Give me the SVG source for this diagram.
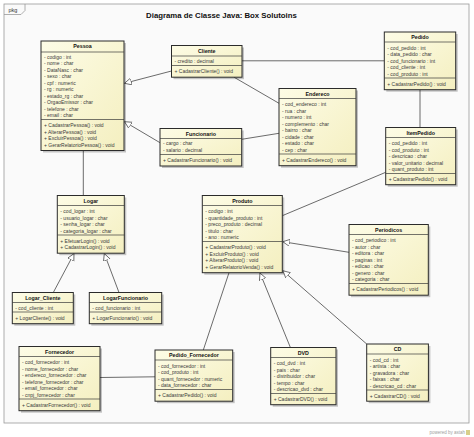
<svg xmlns="http://www.w3.org/2000/svg" width="474" height="437" viewBox="0 0 474 437">
<style>
.frame{fill:#fafafa;stroke:#9a9a9a;stroke-width:0.8}
.box{fill:url(#yg);stroke:#2b2b2b;stroke-width:1}
.sh{fill:#000;opacity:.22}
.sep{stroke:#3a3a3a;stroke-width:0.7}
.nm{font-family:"Liberation Sans",Arial,sans-serif;font-weight:bold;font-size:5.3px;text-anchor:middle;fill:#111}
.t{font-family:"Liberation Sans",Arial,sans-serif;font-size:5px;fill:#3a3a3a}
.c{stroke:#5a5a5a;stroke-width:0.9;fill:none}
.gen{marker-end:url(#tri)}
.title{font-family:"Liberation Sans",Arial,sans-serif;font-weight:bold;font-size:7.8px;text-anchor:middle;fill:#111}
</style>
<defs>
<linearGradient id="yg" x1="0" y1="0" x2="1" y2="1">
<stop offset="0" stop-color="#fdfce6"/>
<stop offset="1" stop-color="#f4efc0"/>
</linearGradient>
<marker id="tri" markerUnits="userSpaceOnUse" markerWidth="9" markerHeight="9" refX="7" refY="3.5" orient="auto">
<path d="M0,0 L7,3.5 L0,7 Z" fill="#fff" stroke="#5a5a5a" stroke-width="0.8"/>
</marker>
</defs>
<rect x="0" y="0" width="474" height="437" fill="#fff"/>
<g id="frame">
<rect class="frame" x="4" y="4" width="465" height="419"/>
<path d="M4,14.5 H21 L25,10.5 V4" fill="none" stroke="#9a9a9a" stroke-width="0.8"/>
<text x="8.5" y="11.5" font-family="Liberation Sans, Arial, sans-serif" font-size="5.5" fill="#333">pkg</text>
<text class="title" x="221.5" y="17.5">Diagrama de Classe Java: Box Solutoins</text>
</g>

<g id="connectors">
<line class="c gen" x1="171.5" y1="71" x2="124.5" y2="83.3"/>
<line class="c gen" x1="160" y1="142.7" x2="124.5" y2="121.7"/>
<line class="c" x1="242" y1="60.8" x2="384.3" y2="60.8"/>
<line class="c" x1="234" y1="77.2" x2="279" y2="103.3"/>
<line class="c" x1="241.7" y1="139.3" x2="279" y2="133.3"/>
<line class="c" x1="420" y1="89.7" x2="420" y2="127.5"/>
<line class="c" x1="83.3" y1="150.5" x2="83.3" y2="195.5"/>
<line class="c gen" x1="53.3" y1="292.5" x2="74" y2="253.6"/>
<line class="c gen" x1="119" y1="292.5" x2="104.3" y2="253.6"/>
<line class="c" x1="282.3" y1="215.7" x2="385.7" y2="172.3"/>
<line class="c gen" x1="349" y1="252.3" x2="282.8" y2="241.7"/>
<line class="c gen" x1="366.7" y1="344" x2="282.8" y2="270.7"/>
<line class="c gen" x1="290.4" y1="347.5" x2="260" y2="273"/>
<line class="c" x1="203.3" y1="350" x2="229" y2="272.7"/>
<line class="c" x1="100" y1="377.5" x2="155" y2="376.8"/>
</g>

<g id="Pessoa">
<rect class="sh" x="43" y="43" width="83" height="109.5"/>
<rect class="box" x="41" y="41" width="83" height="109.5"/>
<line class="sep" x1="41" y1="52" x2="124" y2="52"/>
<line class="sep" x1="41" y1="119.5" x2="124" y2="119.5"/>
<text class="nm" x="82.5" y="48.3">Pessoa</text>
<text class="t" x="44" y="58.5">- codigo : int<tspan x="44" dy="6.5">- nome : char</tspan><tspan x="44" dy="6.5">- DataNasc : char</tspan><tspan x="44" dy="6.5">- sexo : char</tspan><tspan x="44" dy="6.5">- cpf : numeric</tspan><tspan x="44" dy="6.5">- rg : numeric</tspan><tspan x="44" dy="6.5">- estado_rg : char</tspan><tspan x="44" dy="6.5">- OrgaoEmissor : char</tspan><tspan x="44" dy="6.5">- telefone : char</tspan><tspan x="44" dy="6.5">- email : char</tspan></text>
<text class="t" x="44" y="127.3">+ CadastrarPessoa() : void<tspan x="44" dy="6.5">+ AlterarPessoa() : void</tspan><tspan x="44" dy="6.5">+ ExcluirPessoa() : void</tspan><tspan x="44" dy="6.5">+ GerarRelatorioPessoa() : void</tspan></text>
</g>

<g id="Cliente">
<rect class="sh" x="173.5" y="47.5" width="70.5" height="31.7"/>
<rect class="box" x="171.5" y="45.5" width="70.5" height="31.7"/>
<line class="sep" x1="171.5" y1="56" x2="242" y2="56"/>
<line class="sep" x1="171.5" y1="65.5" x2="242" y2="65.5"/>
<text class="nm" x="206.75" y="52.8">Cliente</text>
<text class="t" x="174.5" y="62.6">- credito : decimal</text>
<text class="t" x="174.5" y="73.1">+ CadastrarCliente() : void</text>
</g>

<g id="Funcionario">
<rect class="sh" x="162" y="130.5" width="81.7" height="37.5"/>
<rect class="box" x="160" y="128.5" width="81.7" height="37.5"/>
<line class="sep" x1="160" y1="138.5" x2="241.7" y2="138.5"/>
<line class="sep" x1="160" y1="154.5" x2="241.7" y2="154.5"/>
<text class="nm" x="200.85" y="135.5">Funcionario</text>
<text class="t" x="163" y="145.3">- cargo : char<tspan x="163" dy="6.5">- salario : decimal</tspan></text>
<text class="t" x="163" y="162">+ CadastrarFuncionario() : void</text>
</g>

<g id="Endereco">
<rect class="sh" x="281" y="90.5" width="77" height="77.2"/>
<rect class="box" x="279" y="88.5" width="77" height="77.2"/>
<line class="sep" x1="279" y1="98.5" x2="356" y2="98.5"/>
<line class="sep" x1="279" y1="154" x2="356" y2="154"/>
<text class="nm" x="317.5" y="95.5">Endereco</text>
<text class="t" x="282" y="106">- cod_endereco : int<tspan x="282" dy="6.5">- rua : char</tspan><tspan x="282" dy="6.5">- numero : int</tspan><tspan x="282" dy="6.5">- complemento : char</tspan><tspan x="282" dy="6.5">- bairro : char</tspan><tspan x="282" dy="6.5">- cidade : char</tspan><tspan x="282" dy="6.5">- estado : char</tspan><tspan x="282" dy="6.5">- cep : char</tspan></text>
<text class="t" x="282" y="161.8">+ CadastrarEndereco() : void</text>
</g>

<g id="Pedido">
<rect class="sh" x="386.3" y="34" width="71.4" height="57.7"/>
<rect class="box" x="384.3" y="32" width="71.4" height="57.7"/>
<line class="sep" x1="384.3" y1="42" x2="455.7" y2="42"/>
<line class="sep" x1="384.3" y1="78" x2="455.7" y2="78"/>
<text class="nm" x="420" y="39">Pedido</text>
<text class="t" x="387.3" y="49.5">- cod_pedido : int<tspan x="387.3" dy="6.5">- data_pedido : char</tspan><tspan x="387.3" dy="6.5">- cod_funcionario : int</tspan><tspan x="387.3" dy="6.5">- cod_cliente : int</tspan><tspan x="387.3" dy="6.5">- cod_produto : int</tspan></text>
<text class="t" x="387.3" y="85.8">+ CadastrarPedido() : void</text>
</g>

<g id="ItemPedido">
<rect class="sh" x="387.7" y="129.5" width="70" height="57.2"/>
<rect class="box" x="385.7" y="127.5" width="70" height="57.2"/>
<line class="sep" x1="385.7" y1="137.5" x2="455.7" y2="137.5"/>
<line class="sep" x1="385.7" y1="173.5" x2="455.7" y2="173.5"/>
<text class="nm" x="420.7" y="134.5">ItemPedido</text>
<text class="t" x="388.7" y="145">- cod_pedido : int<tspan x="388.7" dy="6.5">- cod_produto : int</tspan><tspan x="388.7" dy="6.5">- descricao : char</tspan><tspan x="388.7" dy="6.5">- valor_unitario : decimal</tspan><tspan x="388.7" dy="6.5">- quant_produto : int</tspan></text>
<text class="t" x="388.7" y="181.1">+ CadastrarPedido() : void</text>
</g>

<g id="Logar">
<rect class="sh" x="59.3" y="197.5" width="67" height="57.7"/>
<rect class="box" x="57.3" y="195.5" width="67" height="57.7"/>
<line class="sep" x1="57.3" y1="205.5" x2="124.3" y2="205.5"/>
<line class="sep" x1="57.3" y1="235" x2="124.3" y2="235"/>
<text class="nm" x="90.8" y="202.5">Logar</text>
<text class="t" x="60.3" y="213">- cod_logar : int<tspan x="60.3" dy="6.5">- usuario_logar : char</tspan><tspan x="60.3" dy="6.5">- senha_logar : char</tspan><tspan x="60.3" dy="6.5">- categoria_logar : char</tspan></text>
<text class="t" x="60.3" y="242.6">+ EfetuarLogin() : void<tspan x="60.3" dy="6.5">+ CadastrarLogin() : void</tspan></text>
</g>

<g id="Logar_Cliente">
<rect class="sh" x="14.3" y="294.5" width="61" height="31.2"/>
<rect class="box" x="12.3" y="292.5" width="61" height="31.2"/>
<line class="sep" x1="12.3" y1="302.5" x2="73.3" y2="302.5"/>
<line class="sep" x1="12.3" y1="312" x2="73.3" y2="312"/>
<text class="nm" x="42.8" y="299.5">Logar_Cliente</text>
<text class="t" x="15.3" y="309.6">- cod_cliente : int</text>
<text class="t" x="15.3" y="319.7">+ LogarCliente() : void</text>
</g>

<g id="LogarFuncionario">
<rect class="sh" x="91.3" y="294.5" width="72.4" height="31.2"/>
<rect class="box" x="89.3" y="292.5" width="72.4" height="31.2"/>
<line class="sep" x1="89.3" y1="302.5" x2="161.7" y2="302.5"/>
<line class="sep" x1="89.3" y1="312" x2="161.7" y2="312"/>
<text class="nm" x="125.5" y="299.5">LogarFuncionario</text>
<text class="t" x="92.3" y="309.6">- cod_funcionario : int</text>
<text class="t" x="92.3" y="319.7">+ LogarFuncionario() : void</text>
</g>

<g id="Produto">
<rect class="sh" x="204.3" y="197.5" width="80" height="77.2"/>
<rect class="box" x="202.3" y="195.5" width="80" height="77.2"/>
<line class="sep" x1="202.3" y1="205.5" x2="282.3" y2="205.5"/>
<line class="sep" x1="202.3" y1="241.5" x2="282.3" y2="241.5"/>
<text class="nm" x="242.3" y="202.5">Produto</text>
<text class="t" x="205.3" y="213">- codigo : int<tspan x="205.3" dy="6.5">- quantidade_produto : int</tspan><tspan x="205.3" dy="6.5">- preco_produto : decimal</tspan><tspan x="205.3" dy="6.5">- titulo : char</tspan><tspan x="205.3" dy="6.5">- ano : numeric</tspan></text>
<text class="t" x="205.3" y="249.3">+ CadastrarProduto() : void<tspan x="205.3" dy="6.5">+ ExcluirProduto() : void</tspan><tspan x="205.3" dy="6.5">+ AlterarProduto() : void</tspan><tspan x="205.3" dy="6.5">+ GerarRelatorioVenda() : void</tspan></text>
</g>

<g id="Periodicos">
<rect class="sh" x="351" y="226.5" width="79.3" height="70.7"/>
<rect class="box" x="349" y="224.5" width="79.3" height="70.7"/>
<line class="sep" x1="349" y1="234.5" x2="428.3" y2="234.5"/>
<line class="sep" x1="349" y1="283.5" x2="428.3" y2="283.5"/>
<text class="nm" x="388.65" y="231.5">Periodicos</text>
<text class="t" x="352" y="242">- cod_periodico : int<tspan x="352" dy="6.5">- autor : char</tspan><tspan x="352" dy="6.5">- editora : char</tspan><tspan x="352" dy="6.5">- paginas : int</tspan><tspan x="352" dy="6.5">- edicao : char</tspan><tspan x="352" dy="6.5">- genero : char</tspan><tspan x="352" dy="6.5">- categoria : char</tspan></text>
<text class="t" x="352" y="291.3">+ CadastrarPeriodicos() : void</text>
</g>

<g id="Fornecedor">
<rect class="sh" x="21" y="348.5" width="81" height="64.2"/>
<rect class="box" x="19" y="346.5" width="81" height="64.2"/>
<line class="sep" x1="19" y1="356.5" x2="100" y2="356.5"/>
<line class="sep" x1="19" y1="399" x2="100" y2="399"/>
<text class="nm" x="59.5" y="353.5">Fornecedor</text>
<text class="t" x="22" y="364">- cod_fornecedor : int<tspan x="22" dy="6.5">- nome_fornecedor : char</tspan><tspan x="22" dy="6.5">- endereco_fornecedor : char</tspan><tspan x="22" dy="6.5">- telefone_fornecedor : char</tspan><tspan x="22" dy="6.5">- email_fornecedor : char</tspan><tspan x="22" dy="6.5">- cnpj_fornecedor : char</tspan></text>
<text class="t" x="22" y="406.8">+ CadastrarFornecedor() : void</text>
</g>

<g id="Pedido_Fornecedor">
<rect class="sh" x="157" y="352" width="77.7" height="51.2"/>
<rect class="box" x="155" y="350" width="77.7" height="51.2"/>
<line class="sep" x1="155" y1="360" x2="232.7" y2="360"/>
<line class="sep" x1="155" y1="389.5" x2="232.7" y2="389.5"/>
<text class="nm" x="193.85" y="357">Pedido_Fornecedor</text>
<text class="t" x="158" y="367.5">- cod_fornecedor : int<tspan x="158" dy="6.5">- cod_produto : int</tspan><tspan x="158" dy="6.5">- quant_fornecedor : numeric</tspan><tspan x="158" dy="6.5">- data_fornecedor : char</tspan></text>
<text class="t" x="158" y="397.3">+ CadastrarPedido() : void</text>
</g>

<g id="DVD">
<rect class="sh" x="272.7" y="349.5" width="65.3" height="57.2"/>
<rect class="box" x="270.7" y="347.5" width="65.3" height="57.2"/>
<line class="sep" x1="270.7" y1="357.5" x2="336" y2="357.5"/>
<line class="sep" x1="270.7" y1="393.5" x2="336" y2="393.5"/>
<text class="nm" x="303.35" y="354.5">DVD</text>
<text class="t" x="273.7" y="365">- cod_dvd : int<tspan x="273.7" dy="6.5">- pais : char</tspan><tspan x="273.7" dy="6.5">- distribuidor : char</tspan><tspan x="273.7" dy="6.5">- tempo : char</tspan><tspan x="273.7" dy="6.5">- descricao_dvd : char</tspan></text>
<text class="t" x="273.7" y="401.1">+ CadastrarDVD() : void</text>
</g>

<g id="CD">
<rect class="sh" x="368.7" y="346" width="61.7" height="57.2"/>
<rect class="box" x="366.7" y="344" width="61.7" height="57.2"/>
<line class="sep" x1="366.7" y1="354" x2="428.4" y2="354"/>
<line class="sep" x1="366.7" y1="390" x2="428.4" y2="390"/>
<text class="nm" x="397.55" y="351">CD</text>
<text class="t" x="369.7" y="361.5">- cod_cd : int<tspan x="369.7" dy="6.5">- artista : char</tspan><tspan x="369.7" dy="6.5">- gravadora : char</tspan><tspan x="369.7" dy="6.5">- faixas : char</tspan><tspan x="369.7" dy="6.5">- descricao_cd : char</tspan></text>
<text class="t" x="369.7" y="397.6">+ CadastrarCD() : void</text>
</g>

<g id="footer">
<text x="465" y="434" font-family="Liberation Sans, Arial, sans-serif" font-size="4.5" fill="#a0a0a0" text-anchor="end">powered by astah</text>
<rect x="466" y="430" width="4" height="5" fill="#d8cf8a"/>
</g>
</svg>
